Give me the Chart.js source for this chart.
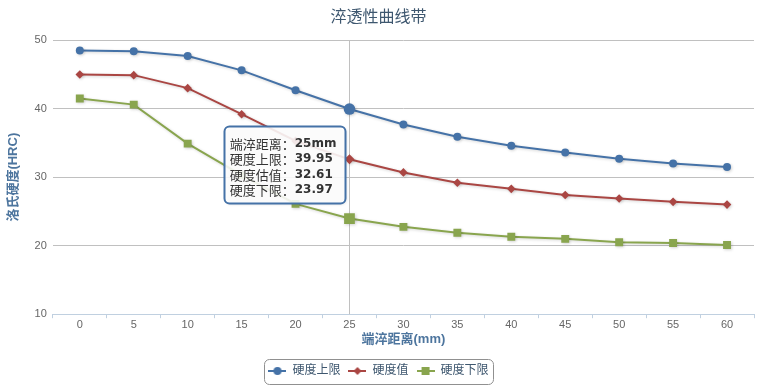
<!DOCTYPE html>
<html>
<head>
<meta charset="utf-8">
<script src="https://cdn.jsdelivr.net/npm/chart.js@4/dist/chart.umd.min.js"></script>
<style>
  html, body { margin: 0; padding: 0; background: #fff; }
</style>
</head>
<body>
<canvas id="curvaChart" width="760" height="388"></canvas>
<script>
// Datos
const distancias = ['0', '5', '10', '15', '20', '25', '30', '35', '40', '45', '50', '55', '60'];
const hrcSuperior = [48.5, 48.4, 47.7, 45.6, 42.7, 39.95, 37.7, 35.9, 34.6, 33.6, 32.7, 32.0, 31.5];
const hrcEstimado = [45.0, 44.9, 43.0, 39.2, 35.3, 32.61, 30.7, 29.2, 28.3, 27.4, 26.9, 26.4, 26.0];
const hrcInferior = [41.5, 40.6, 34.9, 30.3, 26.1, 23.97, 22.75, 21.9, 21.3, 21.0, 20.5, 20.4, 20.1];
const nombres = ['硬度上限', '硬度值', '硬度下限'];
const nombresTooltip = ['硬度上限', '硬度估值', '硬度下限'];
const ticksY = [10, 20, 30, 40, 50];
const indiceActivo = 5;

const colores = ['#4572A7', '#AA4643', '#89A54E'];
const estilos = ['circle', 'rectRot', 'rect'];
const radios = [4, 4.3, 5.6];
const radiosActivos = [5.8, 5, 7.6];
const FUENTE = '"Lucida Grande", "Lucida Sans Unicode", Verdana, Arial, "Noto Sans CJK SC", sans-serif';

// Símbolo de leyenda: línea con marcador al centro
function simboloLeyenda(i) {
    const c = document.createElement('canvas');
    c.width = 18; c.height = 10;
    const g = c.getContext('2d');
    g.strokeStyle = colores[i];
    g.lineWidth = 2;
    g.beginPath(); g.moveTo(0, 5); g.lineTo(18, 5); g.stroke();
    g.fillStyle = colores[i];
    g.beginPath();
    if (estilos[i] === 'circle') g.arc(9, 5, 4, 0, Math.PI * 2);
    else if (estilos[i] === 'rectRot') { g.moveTo(9, 1); g.lineTo(13, 5); g.lineTo(9, 9); g.lineTo(5, 5); g.closePath(); }
    else g.rect(5, 1, 8, 8);
    g.fill();
    return c;
}

const sombraLineas = {
    id: 'sombraLineas',
    beforeDatasetDraw(chart) {
        const ctx = chart.ctx;
        ctx.save();
        ctx.shadowColor = 'rgba(0,0,0,0.18)';
        ctx.shadowBlur = 3;
        ctx.shadowOffsetX = 1;
        ctx.shadowOffsetY = 1;
    },
    afterDatasetDraw(chart) {
        chart.ctx.restore();
    }
};

const cruceta = {
    id: 'cruceta',
    beforeDatasetsDraw(chart) {
        const p = chart.getDatasetMeta(0).data[indiceActivo];
        const a = chart.chartArea;
        const ctx = chart.ctx;
        ctx.save();
        ctx.strokeStyle = '#C0C0C0';
        ctx.lineWidth = 1;
        ctx.beginPath();
        ctx.moveTo(Math.round(p.x) + 0.5, a.top);
        ctx.lineTo(Math.round(p.x) + 0.5, a.bottom);
        ctx.stroke();
        ctx.restore();
    }
};

function rectRedondo(ctx, x, y, w, h, r) {
    ctx.beginPath();
    ctx.moveTo(x + r, y);
    ctx.arcTo(x + w, y, x + w, y + h, r);
    ctx.arcTo(x + w, y + h, x, y + h, r);
    ctx.arcTo(x, y + h, x, y, r);
    ctx.arcTo(x, y, x + w, y, r);
    ctx.closePath();
}

const cajaLeyenda = {
    id: 'cajaLeyenda',
    afterDraw(chart) {
        const boxes = chart.legend.legendHitBoxes;
        if (!boxes || !boxes.length) return;
        const izq = Math.min(...boxes.map(b => b.left)) - 4;
        const der = Math.max(...boxes.map(b => b.left + b.width)) + 5;
        const medio = boxes[0].top + boxes[0].height / 2;
        const ctx = chart.ctx;
        ctx.save();
        ctx.strokeStyle = '#909090';
        ctx.lineWidth = 1;
        rectRedondo(ctx, Math.round(izq) + 0.5, Math.round(medio - 12.5) + 0.5, Math.round(der - izq), 25, 5);
        ctx.stroke();
        ctx.restore();
    }
};

const tooltipFijo = {
    id: 'tooltipFijo',
    afterDraw(chart) {
        const ctx = chart.ctx;
        const puntos = [0, 1, 2].map(i => chart.getDatasetMeta(i).data[indiceActivo]);
        const series = [hrcSuperior, hrcEstimado, hrcInferior];
        const lineas = [['端淬距离：', distancias[indiceActivo] + 'mm']];
        nombresTooltip.forEach((n, i) => lineas.push([n + '：', series[i][indiceActivo].toFixed(2)]));
        const normal = '13px "Noto Sans CJK SC", sans-serif';
        const negrita = 'bold 12px "DejaVu Sans", Verdana, sans-serif';
        let ancho = 0;
        lineas.forEach(l => {
            ctx.font = normal; const w1 = ctx.measureText(l[0]).width;
            ctx.font = negrita; const w2 = ctx.measureText(l[1]).width;
            ancho = Math.max(ancho, w1 + w2);
        });
        const alto = 77;
        const w = ancho + 14;
        const x = puntos[0].x - 5 - w;
        const yMedia = puntos.reduce((s, p) => s + p.y, 0) / puntos.length;
        const y = yMedia - alto / 2 + 2;
        ctx.save();
        ctx.shadowColor = 'rgba(0,0,0,0.15)';
        ctx.shadowBlur = 3;
        ctx.shadowOffsetX = 1;
        ctx.shadowOffsetY = 1;
        rectRedondo(ctx, Math.round(x) + 0.5, Math.round(y) + 0.5, Math.round(w), alto, 5);
        ctx.fillStyle = 'rgba(255,255,255,0.88)';
        ctx.fill();
        ctx.shadowColor = 'transparent';
        ctx.strokeStyle = colores[0];
        ctx.lineWidth = 2;
        ctx.stroke();
        ctx.fillStyle = '#333333';
        ctx.textBaseline = 'middle';
        lineas.forEach((l, i) => {
            const ty = y + 18 + i * 15.5;
            ctx.font = normal;
            ctx.fillText(l[0], x + 6, ty);
            const w1 = ctx.measureText(l[0]).width;
            ctx.font = negrita;
            ctx.fillText(l[1], x + 6 + w1, ty);
        });
        ctx.restore();
    }
};

function crearDataset(i, datos) {
    return {
        label: nombres[i],
        data: datos,
        borderColor: colores[i],
        backgroundColor: colores[i],
        borderWidth: 2,
        pointStyle: estilos[i],
        pointRadius: c => c.dataIndex === indiceActivo ? radiosActivos[i] : radios[i],
        pointBorderWidth: 0,
        tension: 0,
        fill: false
    };
}

document.addEventListener('DOMContentLoaded', () => {
    const ctx = document.getElementById('curvaChart').getContext('2d');
    new Chart(ctx, {
        type: 'line',
        data: {
            labels: distancias,
            datasets: [
                crearDataset(0, hrcSuperior),
                crearDataset(1, hrcEstimado),
                crearDataset(2, hrcInferior)
            ]
        },
        options: {
            responsive: false,
            animation: false,
            events: [],
            layout: { padding: { left: 3, right: 6, top: 0, bottom: 1 } },
            plugins: {
                tooltip: { enabled: false },
                title: {
                    display: true,
                    text: '淬透性曲线带',
                    color: '#3E576F',
                    font: { family: FUENTE, size: 16, weight: 'normal' },
                    padding: { top: 8, bottom: 13 }
                },
                legend: {
                    position: 'bottom',
                    labels: {
                        color: '#3E576F',
                        font: { family: FUENTE, size: 12 },
                        usePointStyle: true,
                        pointStyleWidth: 18,
                        padding: 8,
                        generateLabels: chart => chart.data.datasets.map((d, i) => ({
                            text: d.label,
                            pointStyle: simboloLeyenda(i),
                            fillStyle: colores[i],
                            strokeStyle: colores[i],
                            lineWidth: 0,
                            fontColor: '#3E576F',
                            datasetIndex: i
                        }))
                    }
                }
            },
            scales: {
                x: {
                    offset: true,
                    grid: { drawOnChartArea: false, drawTicks: true, tickLength: 4, color: '#C0D0E0', offset: true },
                    border: { color: '#C0D0E0' },
                    ticks: { color: '#666666', font: { family: FUENTE, size: 11 }, padding: 0, maxRotation: 0 },
                    title: {
                        display: true,
                        text: '端淬距离(mm)',
                        color: '#4d759e',
                        font: { family: FUENTE, size: 13, weight: 'bold' },
                        padding: { top: 0, bottom: 10 }
                    }
                },
                y: {
                    min: ticksY[0],
                    max: ticksY[ticksY.length - 1],
                    grid: { color: '#C0C0C0', drawTicks: false },
                    border: { display: false },
                    afterBuildTicks: axis => { axis.ticks = ticksY.map(v => ({ value: v })); },
                    ticks: { color: '#666666', font: { family: FUENTE, size: 11 }, padding: 6 },
                    title: {
                        display: true,
                        text: '洛氏硬度(HRC)',
                        color: '#4d759e',
                        font: { family: FUENTE, size: 13, weight: 'bold' },
                        padding: { top: 3, bottom: 7 }
                    }
                }
            }
        },
        plugins: [sombraLineas, cruceta, cajaLeyenda, tooltipFijo]
    });
});
</script>
</body>
</html>
